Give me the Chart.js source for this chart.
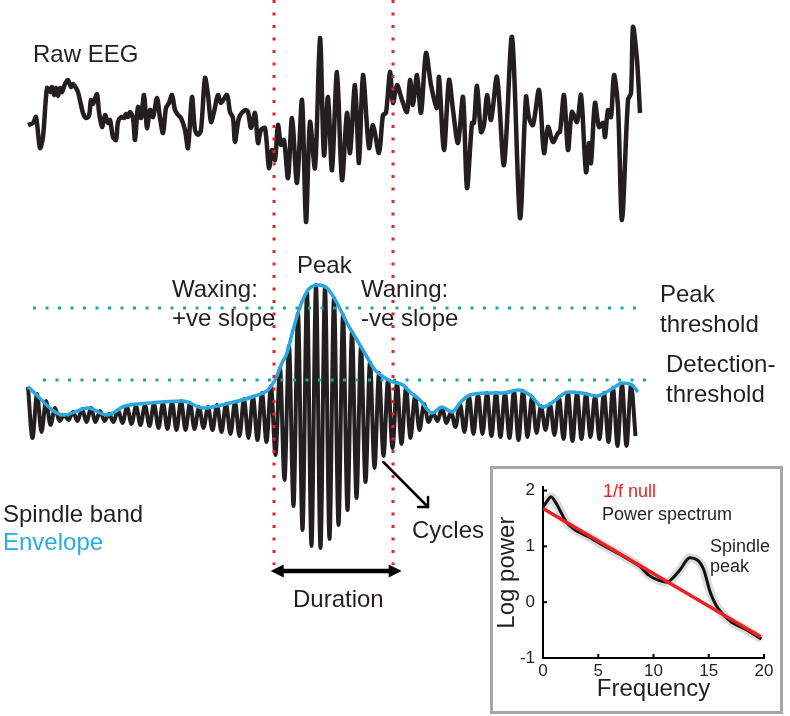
<!DOCTYPE html>
<html>
<head>
<meta charset="utf-8">
<title>Spindle detection</title>
<script src="https://cdn.jsdelivr.net/npm/chart.js@4.4.1/dist/chart.umd.min.js"></script>
<style>
  body { margin: 0; background: #fff; }
  #wrap { position: relative; width: 790px; height: 716px; overflow: hidden;
          font-family: "Liberation Sans", Arial, sans-serif; color: #231f20; }
  #main { position: absolute; left: 0; top: 0; }
  .lbl { position: absolute; font-size: 24px; line-height: 24px; white-space: nowrap; }
  .sm { font-size: 18px; line-height: 18px; }
  #inset { position: absolute; left: 490px; top: 466px; width: 293px; height: 248px;
           border: 3px solid #a6a6a6; box-sizing: border-box; background: #fff; }
  #inset canvas { position: absolute; left: 0; top: 0; }
</style>
</head>
<body>
<div id="wrap">
  <canvas id="main" width="790" height="716"></canvas>

  <div class="lbl" style="left:33px; top:41.7px;">Raw EEG</div>
  <div class="lbl" style="left:297px; top:253px;">Peak</div>
  <div class="lbl" style="left:172px; top:276.5px;">Waxing:</div>
  <div class="lbl" style="left:172px; top:305.5px;">+ve slope</div>
  <div class="lbl" style="left:361px; top:277px;">Waning:</div>
  <div class="lbl" style="left:361px; top:305.5px;">-ve slope</div>
  <div class="lbl" style="left:660px; top:281.5px;">Peak</div>
  <div class="lbl" style="left:660px; top:311.5px;">threshold</div>
  <div class="lbl" style="left:666px; top:351.5px;">Detection-</div>
  <div class="lbl" style="left:666px; top:381.5px;">threshold</div>
  <div class="lbl" style="left:3px; top:501.5px;">Spindle band</div>
  <div class="lbl" style="left:3px; top:529.5px; color:#29abe2;">Envelope</div>
  <div class="lbl" style="left:412px; top:518px;">Cycles</div>
  <div class="lbl" style="left:293px; top:586.5px;">Duration</div>

  <div id="inset"><canvas id="spec" width="287" height="242"></canvas></div>
  <div class="lbl sm" style="left:603px; top:481.8px; color:#ed2024;">1/f null</div>
  <div class="lbl sm" style="left:602px; top:504.8px;">Power spectrum</div>
  <div class="lbl sm" style="left:710px; top:536.8px;">Spindle</div>
  <div class="lbl sm" style="left:710px; top:556.8px;">peak</div>
</div>

<script>
// ---- RAW EEG (time in ms, amplitude in uV) ----
const rawTimeMs = [0, 50, 80, 120, 150, 190, 220, 240, 260, 280, 300, 320, 340, 370, 400, 430, 450, 480, 500,
  550, 580, 610, 630, 650, 690, 710, 740, 770, 800, 820, 850, 880, 900, 930, 960, 980, 1000, 1020, 1050,
  1070, 1100, 1130, 1160, 1190, 1220, 1250, 1290, 1320, 1350, 1380, 1410, 1440, 1470, 1500, 1530, 1570,
  1600, 1640, 1670, 1700, 1730, 1770, 1800, 1830, 1860, 1900, 1930, 1990, 2020, 2050, 2070, 2110, 2170,
  2200, 2230, 2270, 2300, 2330, 2370, 2410, 2440, 2470, 2500, 2530, 2560, 2600, 2640, 2690, 2740, 2780,
  2820, 2870, 2920, 2960, 3000, 3040, 3090, 3140, 3190, 3220, 3270, 3310, 3350, 3410, 3450, 3510, 3550,
  3580, 3620, 3650, 3690, 3740, 3790, 3820, 3850, 3890, 3930, 3980, 4030, 4090, 4110, 4160, 4210, 4250,
  4300, 4350, 4390, 4440, 4460, 4490, 4530, 4560, 4590, 4630, 4690, 4760, 4840, 4920, 4980, 5010, 5050,
  5110, 5160, 5200, 5250, 5300, 5320, 5360, 5400, 5440, 5490, 5530, 5580, 5610, 5630, 5670, 5710, 5750,
  5770, 5800, 5830, 5860, 5900, 5940, 6000, 6030, 6050, 6090, 6120];
const rawEEG = [-5, -3, 3, -28, -17, 32, 28, 33, 25, 32, 24, 32, 28, 36, 40, 33, 36, 32, 28,
  7, 2, 4, 20, 16, 26, 8, -7, 5, -3, 0, -17, -20, -2, 3, 2, 6, 3, 8, 2,
  -20, 13, 2, 25, -8, 10, 3, 22, 2, -13, 12, 17, 25, 10, 5, 2, -10,
  -28, 23, -10, -15, -10, 42, 25, -2, 8, 25, 17, 25, 8, 2, -22, 2, 10,
  8, -8, 7, -23, -10, -8, -48, -30, -40, -5, -25, -20, -58, 2, -63, 20, -102,
  -2, -48, 82, -35, 23, -50, 48, -60, 7, -33, 35, -43, 45, -28, -5, -33, 5,
  7, 48, 17, 35, 20, 8, 40, 15, 45, 7, 67, 35, 12, 43, -30, 40, 10,
  -23, 23, -68, -3, -3, 34, -12, -5, 25, 0, 43, -45, 83, -98, 23, 2, -5,
  30, -33, -7, -22, -13, -12, 25, -30, 8, -2, 25, -52, -23, -43, 17, -7, -3,
  -17, 10, 3, 45, 13, -100, 20, 27, 93, 60, 7];

// ---- SPINDLE BAND: one peak and one trough per cycle ----
const spindlePeriodMs = 90;
const spindlePeaks = [31, 24, 17, 10, 3, 6, 9, 10, 7, 4, 8, 11, 12, 13, 14, 15, 16, 17, 15, 11,
  11, 13, 14, 16, 19, 21, 25, 32, 50, 72, 105, 126, 133, 131, 120, 103, 86, 71, 56, 45,
  38, 35, 30, 22, 14, 5, 10, 6, 14, 22, 24, 25, 25, 25, 27, 27, 21, 12, 14, 21,
  25, 25, 24, 22, 25, 30, 34, 33];
const spindleTroughs = [-20, -14, -7, -3, -2, -3, -4, -4, -3, -4, -5, -6, -7, -8, -10, -11, -12, -12, -11, -10,
  -12, -14, -16, -18, -20, -22, -24, -37, -62, -88, -112, -128, -130, -121, -107, -92, -80, -64, -50, -38,
  -30, -26, -20, -12, -4, -3, -5, -9, -14, -16, -16, -18, -19, -20, -22, -19, -15, -12, -17, -21,
  -23, -21, -19, -21, -24, -28, -28, -18];

// ---- ENVELOPE ----
const envTimeMs = [0, 360, 600, 790, 970, 1220, 1550, 1750, 2020, 2270, 2400, 2470, 2540, 2590, 2650,
  2720, 2800, 2900, 2990, 3090, 3190, 3290, 3390, 3470, 3570, 3650, 3750, 3820, 3920, 4040, 4140,
  4240, 4320, 4420, 4590, 4750, 4900, 5020, 5150, 5250, 5400, 5540, 5690, 5820, 5950, 6040, 6100];
const envelope = [31, 3, 10, 3, 12, 15, 17, 10, 15, 22, 28, 38, 55, 65, 88,
  111, 128, 133, 130, 115, 95, 78, 61, 48, 40, 36, 33, 26, 18, 5, 11,
  6, 15, 23, 25, 25, 28, 23, 11, 16, 26, 25, 22, 28, 35, 33, 26];

// ---- THRESHOLDS AND SPINDLE LIMITS ----
const peakThreshold = 110;
const detectionThreshold = 38;
const peakThrSpanMs = [50, 6100];
const detThrSpanMs = [150, 6200];
const spindleOnsetMs = 2460;
const spindleOffsetMs = 3650;
const markerSpan = [418, -147];
const durationArrowMs = [2427, 3737];
const durationArrowLevel = -153;
const cyclesArrowMs = [3553, 4000];
const cyclesArrowLevel = [-44, -89];

// ---- POWER SPECTRUM (inset) ----
const specFreq = [0, 0.72, 1.23, 2.13, 3.02, 4.22, 5.41, 7.2, 8.7, 9.6, 10.49, 11.24, 11.69, 12.44,
  13.18, 13.93, 14.53, 15.13, 15.87, 17.07, 18.27, 19.76];
const specLogPower = [1.7, 1.89, 1.76, 1.43, 1.28, 1.16, 1.02, 0.83, 0.65, 0.48, 0.39, 0.36, 0.42, 0.59,
  0.79, 0.76, 0.59, 0.18, -0.12, -0.36, -0.48, -0.66];
const nullFreq = [0, 19.7];
const nullLogPower = [1.68, -0.62];

const INK = "#231f20";
const RED = "#ed2024";
const TEAL = "#1aa898";
const BLUE = "#2aa7df";
const FONT = "'Liberation Sans', Arial, sans-serif";

const pts = (xs, ys) => xs.map((x, i) => ({ x: x, y: ys[i] }));

let spindleBand = [];
for (let i = 0; i < spindlePeaks.length; i++) {
  spindleBand.push({ x: i * spindlePeriodMs, y: spindlePeaks[i] });
  spindleBand.push({ x: i * spindlePeriodMs + spindlePeriodMs / 2, y: spindleTroughs[i] });
}

const dotted = (color) => ({
  borderColor: color, borderWidth: 3, borderDash: [3, 9.5], borderCapStyle: "butt",
  pointRadius: 0, fill: false, tension: 0
});

const arrowPlugin = {
  id: "arrows",
  afterDatasetsDraw(chart) {
    const { ctx, scales: { x, ySp } } = chart;
    ctx.save();
    ctx.strokeStyle = "#000";
    ctx.fillStyle = "#000";

    // duration (double headed)
    const y = ySp.getPixelForValue(durationArrowLevel);
    const x1 = x.getPixelForValue(durationArrowMs[0]);
    const x2 = x.getPixelForValue(durationArrowMs[1]);
    ctx.lineWidth = 4.5;
    ctx.beginPath(); ctx.moveTo(x1 + 8, y); ctx.lineTo(x2 - 8, y); ctx.stroke();
    [[x1, 1], [x2, -1]].forEach(([tip, d]) => {
      ctx.beginPath();
      ctx.moveTo(tip, y);
      ctx.lineTo(tip + d * 13, y - 6.5);
      ctx.lineTo(tip + d * 13, y + 6.5);
      ctx.closePath();
      ctx.fill();
    });

    // cycles (open head)
    const sx = x.getPixelForValue(cyclesArrowMs[0]), sy = ySp.getPixelForValue(cyclesArrowLevel[0]);
    const ex = x.getPixelForValue(cyclesArrowMs[1]), ey = ySp.getPixelForValue(cyclesArrowLevel[1]);
    const ang = Math.atan2(ey - sy, ex - sx);
    ctx.lineWidth = 2.5;
    ctx.lineCap = "round";
    ctx.beginPath(); ctx.moveTo(sx, sy); ctx.lineTo(ex, ey); ctx.stroke();
    ctx.beginPath();
    ctx.moveTo(ex - 10 * Math.cos(ang - Math.PI / 4), ey - 10 * Math.sin(ang - Math.PI / 4));
    ctx.lineTo(ex, ey);
    ctx.lineTo(ex - 10 * Math.cos(ang + Math.PI / 4), ey - 10 * Math.sin(ang + Math.PI / 4));
    ctx.stroke();
    ctx.restore();
  }
};

// ---- MAIN FIGURE ----
new Chart(document.getElementById("main"), {
  type: "line",
  data: {
    datasets: [
      { data: pts([spindleOnsetMs, spindleOnsetMs], markerSpan), yAxisID: "ySp", ...dotted(RED) },
      { data: pts([spindleOffsetMs, spindleOffsetMs], markerSpan), yAxisID: "ySp", ...dotted(RED) },
      { data: pts(peakThrSpanMs, [peakThreshold, peakThreshold]), yAxisID: "ySp", ...dotted(TEAL) },
      { data: pts(detThrSpanMs, [detectionThreshold, detectionThreshold]), yAxisID: "ySp", ...dotted(TEAL) },
      { data: pts(envTimeMs, envelope), yAxisID: "ySp", borderColor: BLUE, borderWidth: 3.5,
        cubicInterpolationMode: "monotone", pointRadius: 0 },
      { data: spindleBand, yAxisID: "ySp", borderColor: INK, borderWidth: 4,
        cubicInterpolationMode: "monotone", pointRadius: 0 },
      { data: pts(rawTimeMs, rawEEG), yAxisID: "yRaw", borderColor: INK, borderWidth: 4.5,
        tension: 0.3, borderJoinStyle: "round", pointRadius: 0 }
    ]
  },
  options: {
    responsive: false,
    animation: false,
    events: [],
    layout: { padding: 0 },
    plugins: { legend: { display: false }, tooltip: { enabled: false } },
    scales: {
      x: { type: "linear", display: false, min: -280, max: 7620 },
      yRaw: { type: "linear", display: false, min: -596, max: 120 },
      ySp: { type: "linear", display: false, min: -298, max: 418 }
    }
  },
  plugins: [arrowPlugin]
});

// ---- INSET: POWER SPECTRUM ----
const inwardTicks = {
  id: "inwardTicks",
  afterDraw(chart) {
    const { ctx, chartArea: a, scales: { x, y } } = chart;
    ctx.save();
    ctx.strokeStyle = "#000";
    ctx.lineWidth = 2;
    x.ticks.forEach(t => {
      const px = x.getPixelForValue(t.value);
      ctx.beginPath(); ctx.moveTo(px, a.bottom); ctx.lineTo(px, a.bottom - 4); ctx.stroke();
    });
    y.ticks.forEach(t => {
      const py = y.getPixelForValue(t.value);
      ctx.beginPath(); ctx.moveTo(a.left, py); ctx.lineTo(a.left + 4, py); ctx.stroke();
    });
    ctx.restore();
  }
};

new Chart(document.getElementById("spec"), {
  type: "line",
  data: {
    datasets: [
      { data: pts(nullFreq, nullLogPower), borderColor: RED, borderWidth: 3.5, pointRadius: 0 },
      { data: pts(specFreq, specLogPower), borderColor: "#111", borderWidth: 3, tension: 0.25, pointRadius: 0 },
      { data: pts(specFreq, specLogPower), borderColor: "rgba(0,0,0,0.14)", borderWidth: 9, tension: 0.25, pointRadius: 0 }
    ]
  },
  options: {
    responsive: false,
    animation: false,
    events: [],
    layout: { padding: { left: 0, right: 16, top: 15, bottom: 0 } },
    plugins: { legend: { display: false }, tooltip: { enabled: false } },
    scales: {
      x: {
        type: "linear", min: 0, max: 20,
        grid: { drawOnChartArea: false, drawTicks: false },
        border: { color: "#000", width: 2 },
        ticks: { stepSize: 5, padding: 3, color: INK, font: { family: FONT, size: 17 } },
        title: { display: true, text: "Frequency", color: INK, font: { family: FONT, size: 24 },
                 padding: { top: 0, bottom: 7 } },
        afterFit(s) { s.height = 53; }
      },
      y: {
        type: "linear", min: -1, max: 2.06,
        afterBuildTicks(s) { s.ticks = [-1, 0, 1, 2].map(v => ({ value: v })); },
        grid: { drawOnChartArea: false, drawTicks: false },
        border: { color: "#000", width: 2 },
        ticks: { padding: 8, color: INK, font: { family: FONT, size: 17 } },
        title: { display: true, text: "Log power", color: INK, font: { family: FONT, size: 24 },
                 padding: { top: 0, bottom: 0 } },
        afterFit(s) { s.width = 50; }
      }
    }
  },
  plugins: [inwardTicks]
});
</script>
</body>
</html>
